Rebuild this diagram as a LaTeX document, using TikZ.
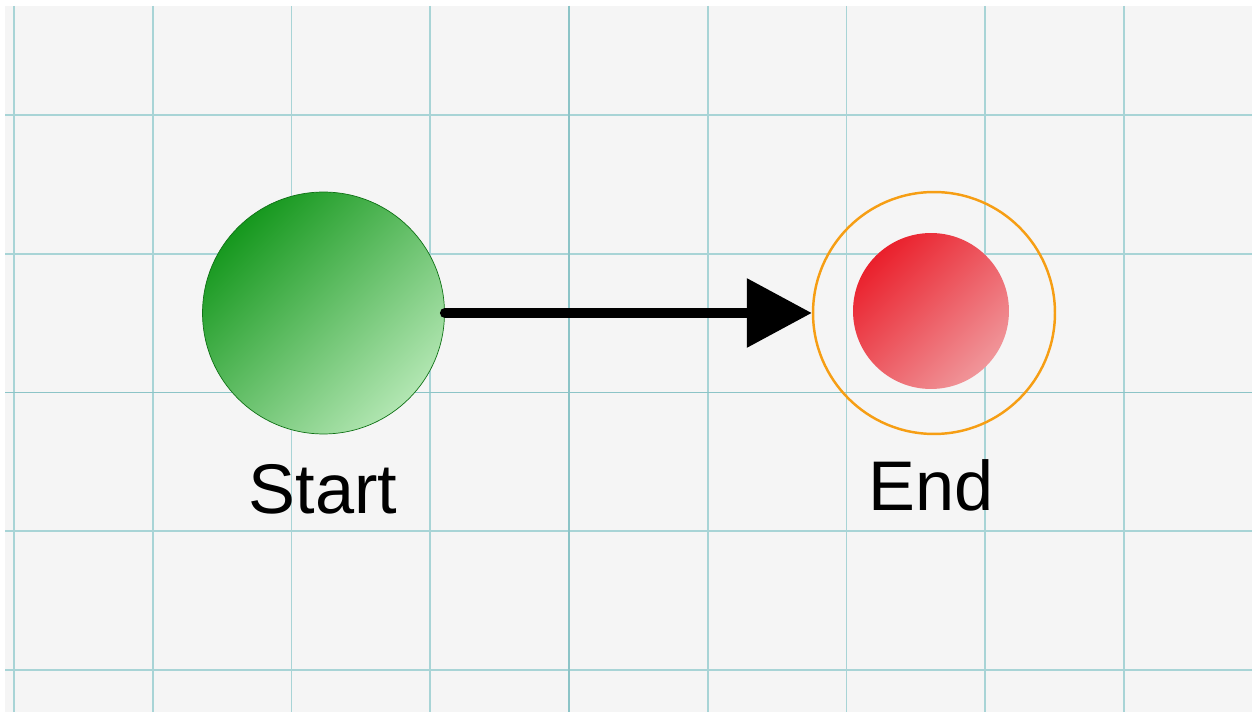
\documentclass[tikz,border=0pt]{standalone}
\usepackage{fontspec}
\setmainfont{Liberation Sans}
\usetikzlibrary{arrows.meta}
\definecolor{paper}{RGB}{245,245,245}
\definecolor{gridline}{RGB}{168,212,214}
\definecolor{gridmajor}{RGB}{140,196,199}
\definecolor{leafdark}{RGB}{22,152,30}
\definecolor{leafmid}{RGB}{80,184,80}
\definecolor{leaflight}{RGB}{178,230,178}
\definecolor{cherry}{RGB}{234,32,44}
\definecolor{coral}{RGB}{232,96,98}
\definecolor{blush}{RGB}{240,150,154}
\definecolor{amber}{RGB}{246,158,20}
\tikzset{
  >={Triangle[length=1.3cm,width=1.34cm]},
  state/.style={circle,inner sep=0pt,minimum size=#1},
  state/.default=4.84cm,
  tag/.style={anchor=base,font=\fontsize{40}{48}\selectfont,text=black,inner sep=0pt},
  grid line/.style={draw=#1,line width=1.1pt},
  grid line/.default=gridline,
  flow/.style={->,line width=5.6pt,line cap=round,draw=black},
}

\begin{document}
\begin{tikzpicture}[x=0.02cm,y=-0.02cm]
    \useasboundingbox[fill=white] (0,0) rectangle (1252,712);
    \fill[paper] (5,6) rectangle (1252,712);
    % grid
    \foreach \i in {0,...,8}
      \draw[grid line] ({14+138.75*\i},6) -- ({14+138.75*\i},712);
    \foreach \j in {0,...,4}
      \draw[grid line] (5,{115+138.75*\j}) -- (1252,{115+138.75*\j});
    \draw[grid line=gridmajor] (569,6) -- (569,712);
    \draw[grid line=gridmajor] (5,392.5) -- (1252,392.5);
    % states
    \node[state,draw=leafdark!75!black,top color=leafdark,middle color=leafmid,bottom color=leaflight,shading angle=45] (start) at (323.5,313) {};
    \node[state,draw=amber,line width=1.4pt] (end) at (934,313) {};
    \node[state=3.12cm,top color=cherry,middle color=coral,bottom color=blush,shading angle=45] (endcore) at (931,311) {};
    \node[tag] (startlabel) at (323,514) {Start};
    \node[tag] (endlabel) at (931,511) {End};
    \draw[flow] (start.east) -- (end.west);
\end{tikzpicture}
\end{document}
